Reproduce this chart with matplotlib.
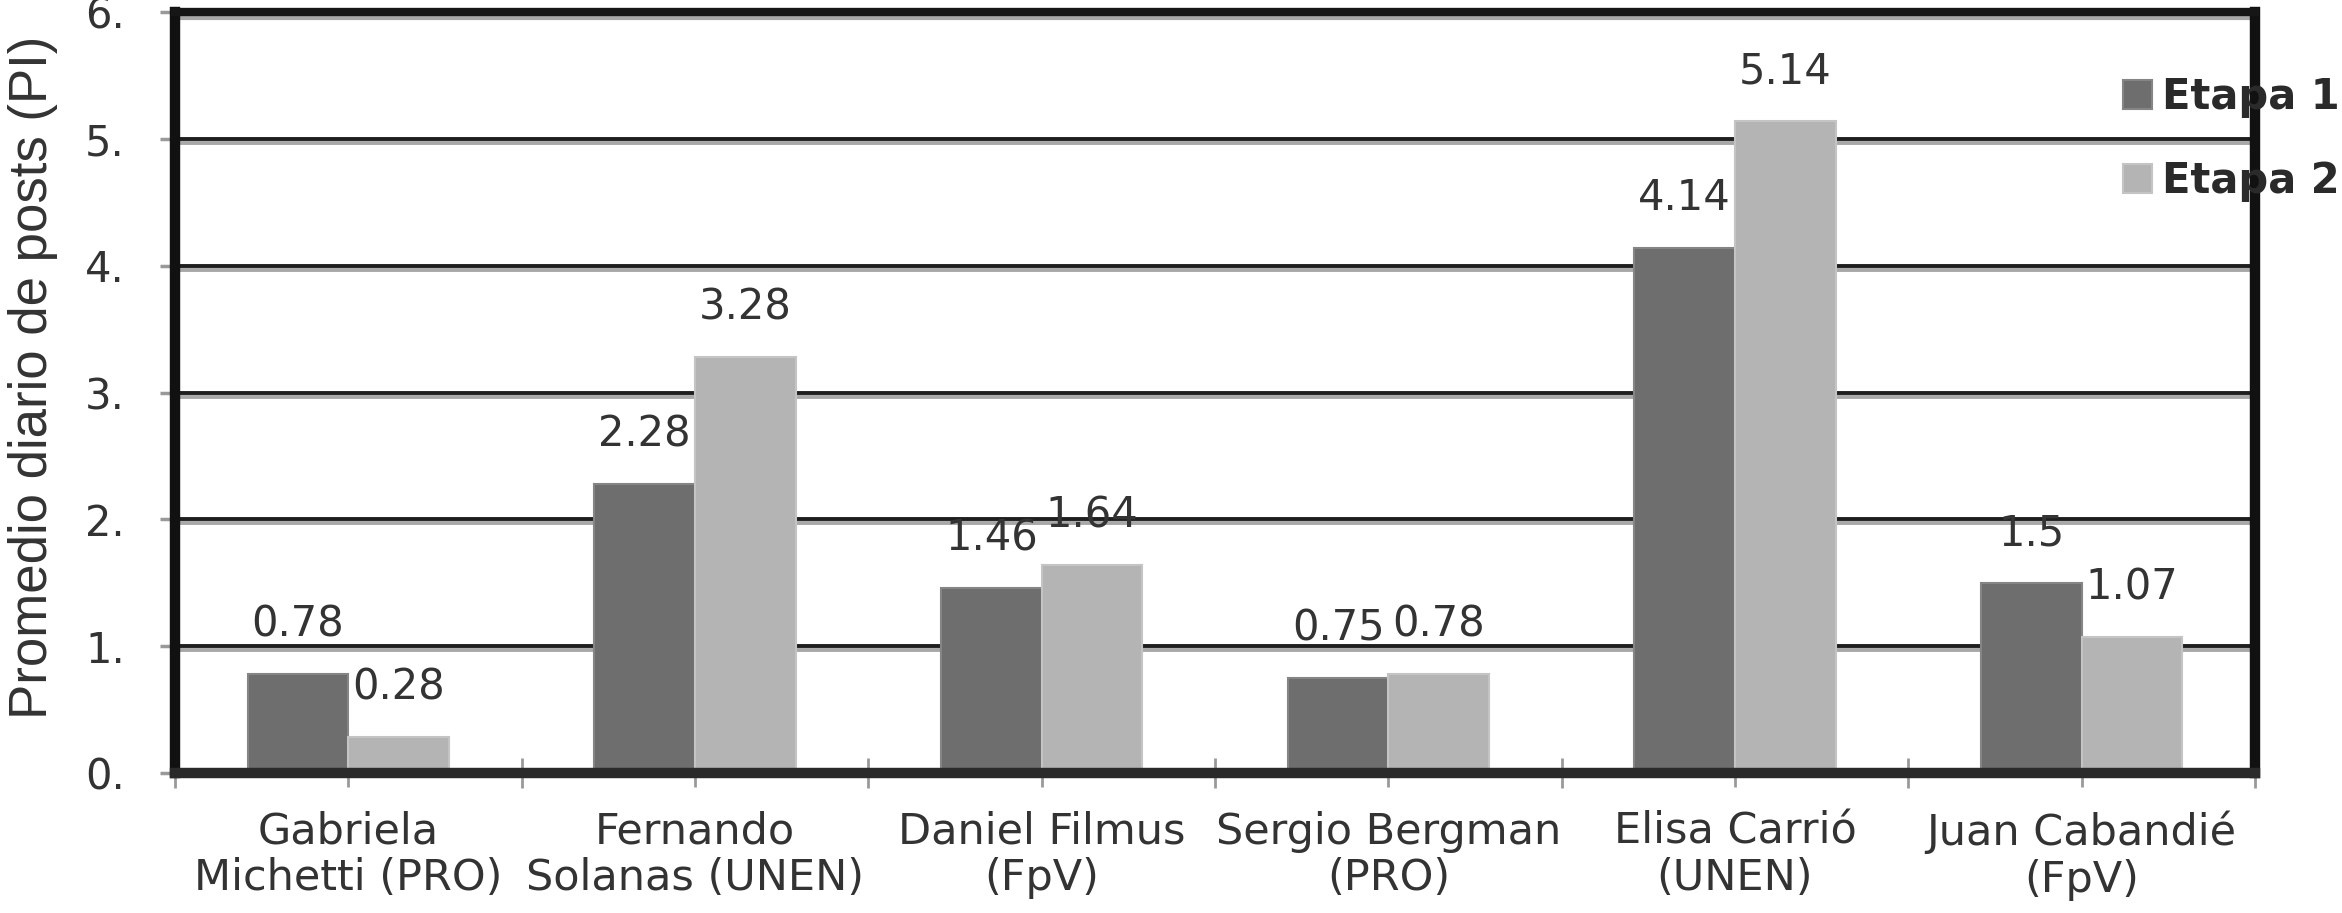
import matplotlib
matplotlib.use('Agg')
import matplotlib.pyplot as plt
import numpy as np

candidatos = ['Gabriela\nMichetti (PRO)', 'Fernando\nSolanas (UNEN)', 'Daniel Filmus\n(FpV)',
              'Sergio Bergman\n(PRO)', 'Elisa Carrió\n(UNEN)', 'Juan Cabandié\n(FpV)']
etapa1 = [0.78, 2.28, 1.46, 0.75, 4.14, 1.5]
etapa2 = [0.28, 3.28, 1.64, 0.78, 5.14, 1.07]
yticks = [0, 1, 2, 3, 4, 5, 6]
ytick_labels = ['0.', '1.', '2.', '3.', '4.', '5.', '6.']

plt.rcParams['font.family'] = ['DejaVu Sans']
txt = '#333333'

fig = plt.figure(figsize=(23.42, 9.13), dpi=100)
ax = fig.add_axes([175/2342, 1 - 773/913, (2255 - 175)/2342, (773 - 12)/913])

x = np.arange(len(candidatos)) + 0.5
w = 0.29
b1 = ax.bar(x - w/2, etapa1, w, color='#6e6e6e', edgecolor='#858585', linewidth=1.5, zorder=3, label='Etapa 1')
b2 = ax.bar(x + w/2, etapa2, w, color='#b4b4b4', edgecolor='#c4c4c4', linewidth=1.5, zorder=3, label='Etapa 2')

# lineas horizontales (negra + sombra gris)
for v in yticks[1:-1]:
    ax.axhline(v, color='#1e1e1e', lw=2.8, zorder=2)
    ax.axhline(v - 0.032, color='#a8a8a8', lw=2.8, zorder=1)
ax.axhline(6 - 0.045, color='#a8a8a8', lw=3, zorder=1)

for bars, vals in [(b1, etapa1), (b2, etapa2)]:
    for r, v in zip(bars, vals):
        ax.annotate(str(v), (r.get_x() + r.get_width()/2, v), xytext=(0, 27),
                    textcoords='offset points', ha='center', va='baseline',
                    fontsize=30, color=txt, zorder=5)

ax.set_xlim(0, 6)
ax.set_ylim(0, 6)
ax.set_yticks(yticks)
ax.set_yticklabels(ytick_labels)
ax.set_xticks(x)
ax.set_xticklabels(candidatos, linespacing=1.15)
ax.set_xticks(np.arange(0, 7), minor=True)

ax.tick_params(axis='y', direction='out', length=11, width=2.5, color='#999999',
               pad=25, labelsize=30, labelcolor=txt)
ax.tick_params(axis='x', which='major', direction='out', length=10, width=2, color='#999999',
               pad=17, labelsize=31, labelcolor=txt)
ax.tick_params(axis='x', which='minor', direction='inout', length=21, width=2, color='#999999')

for s in ['left', 'right']:
    ax.spines[s].set_linewidth(7.5)
    ax.spines[s].set_color('#111111')
ax.spines['top'].set_linewidth(6)
ax.spines['top'].set_color('#161616')
ax.spines['bottom'].set_linewidth(7.5)
ax.spines['bottom'].set_color('#2a2a2a')
for s in ax.spines.values():
    s.set_zorder(4)

fig.text(33/2342, 1 - 377/913, 'Promedio diario de posts (PI)', rotation=90,
         ha='center', va='center', fontsize=38, color=txt,
         family=['Liberation Sans', 'DejaVu Sans'])

leg = fig.legend(handles=[b1, b2], loc='upper left', bbox_to_anchor=(2123/2342, 1 - 76/913),
                 frameon=False, borderpad=0, borderaxespad=0, handlelength=0.69, handleheight=0.69,
                 handletextpad=0.24, labelspacing=1.0,
                 prop={'size': 30, 'weight': 'bold'})
for t in leg.get_texts():
    t.set_color('#2a2a2a')

fig.savefig('out.png', dpi=100)
